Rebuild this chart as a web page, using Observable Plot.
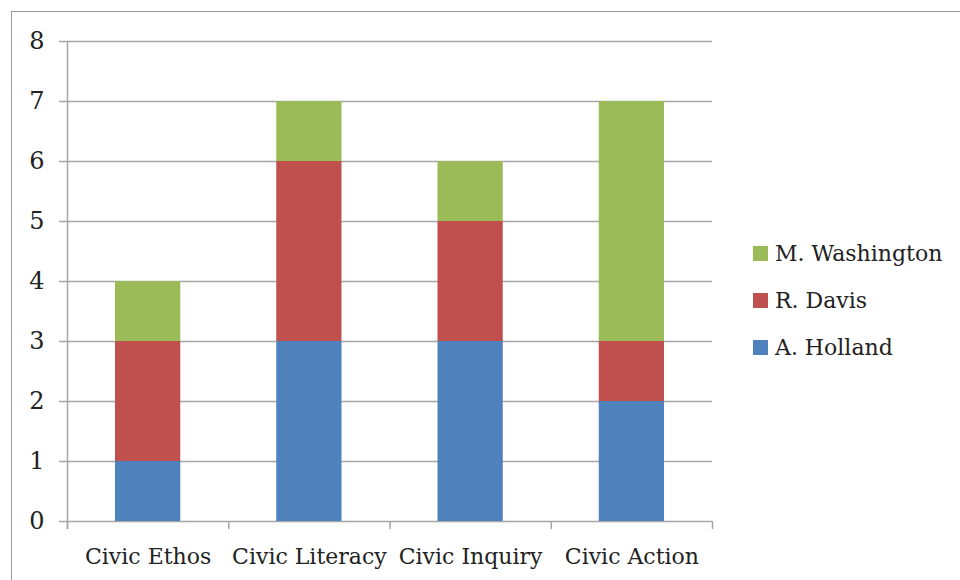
<!DOCTYPE html>
<html>
<head>
<meta charset="utf-8">
<script src="https://cdn.jsdelivr.net/npm/d3@7"></script>
<script src="https://cdn.jsdelivr.net/npm/@observablehq/plot@0.6"></script>
<style>
  html, body { margin: 0; padding: 0; background: #fff; }
  #wrap { position: relative; width: 960px; height: 580px; overflow: hidden; }
  #frame { position: absolute; left: 11px; top: 11px; width: 960px; height: 600px;
           border-left: 1.5px solid #999; border-top: 1.5px solid #999; }
  #chart { position: absolute; left: 0; top: 0; }
  #legend { position: absolute; left: 753px; top: 230px; font-family: "DejaVu Serif", serif;
            font-size: 22px; color: #222; }
  .item { display: flex; align-items: center; height: 47px; }
  .sw { width: 15px; height: 15px; margin-right: 7px; }
</style>
</head>
<body>
<div id="wrap">
  <div id="frame"></div>
  <div id="chart"></div>
  <div id="legend"></div>
</div>
<script>
const categories = ["Civic Ethos", "Civic Literacy", "Civic Inquiry", "Civic Action"];
const seriesNames = ["A. Holland", "R. Davis", "M. Washington"];
const seriesColors = ["#4F81BD", "#C0504D", "#9BBB59"];
const holland = [1, 3, 3, 2];
const davis = [2, 3, 2, 1];
const washington = [1, 1, 1, 4];
const yTicks = [0, 1, 2, 3, 4, 5, 6, 7, 8];

const seriesValues = [holland, davis, washington];
const rows = [];
categories.forEach((c, i) => {
  seriesNames.forEach((s, j) => {
    rows.push({ category: c, index: i, series: s, value: seriesValues[j][i] });
  });
});
const boundaries = d3.range(categories.length + 1);
const centers = categories.map((c, i) => ({ category: c, pos: i + 0.5 }));

const font = '"DejaVu Serif", serif';
const chart = Plot.plot({
  width: 960,
  height: 580,
  marginLeft: 67,
  marginRight: 248,
  marginTop: 41,
  marginBottom: 59,
  style: { fontFamily: font, background: "transparent", color: "#222" },
  x: { domain: [0, categories.length], axis: null },
  y: { domain: [0, 8], axis: null },
  color: { domain: seriesNames, range: seriesColors },
  marks: [
    Plot.ruleY(yTicks, { stroke: "#a6a6a6", strokeWidth: 1.5, insetLeft: -8 }),
    Plot.rectY(rows, Plot.stackY({
      x1: "index", x2: d => d.index + 1, y: "value", fill: "series",
      order: seriesNames, insetLeft: 48, insetRight: 48
    })),
    Plot.ruleX([0], { stroke: "#a6a6a6", strokeWidth: 1.5, insetBottom: -8 }),
    Plot.ruleX(boundaries, { y1: 0, y2: 0, stroke: "#a6a6a6", strokeWidth: 1.5, insetBottom: -8 }),
    Plot.axisY(yTicks, { tickSize: 0, tickPadding: 23, label: null, fontSize: 24, fontFamily: font, fill: "#222", tickFormat: d => d }),
    Plot.text(centers, { x: "pos", y: 0, text: "category", dy: 35, fontSize: 22, fontFamily: font, fill: "#222" })
  ]
});
document.getElementById("chart").appendChild(chart);

const legend = document.getElementById("legend");
[...seriesNames].reverse().forEach(s => {
  const item = document.createElement("div");
  item.className = "item";
  const sw = document.createElement("div");
  sw.className = "sw";
  sw.style.background = seriesColors[seriesNames.indexOf(s)];
  const lab = document.createElement("span");
  lab.textContent = s;
  item.appendChild(sw);
  item.appendChild(lab);
  legend.appendChild(item);
});
</script>
</body>
</html>
